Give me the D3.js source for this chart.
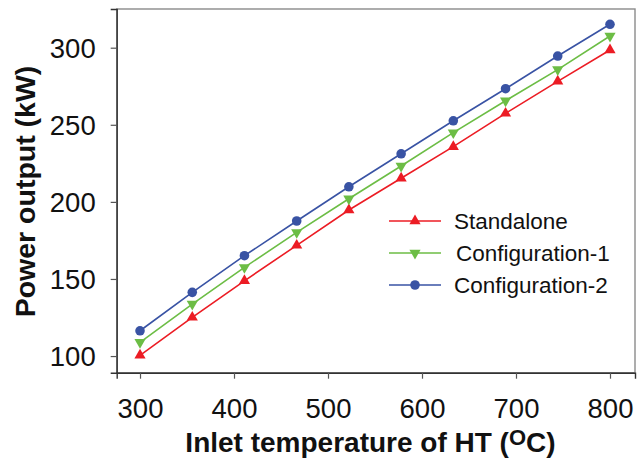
<!DOCTYPE html>
<html>
<head>
<meta charset="utf-8">
<style>
    body { margin: 0; background: #ffffff; }
    text { font-family: "Liberation Sans", Arial, sans-serif; }
</style>
</head>
<body>
<script src="https://d3js.org/d3.v7.min.js"></script>
<script>
    // data
    const temps = [300, 355.6, 411.1, 466.7, 522.2, 577.8, 633.3, 688.9, 744.4, 800];
    const standalone = [100.5, 125.1, 148.8, 171.8, 194.7, 215.3, 235.8, 257.4, 278.2, 298.5];
    const config1 = [108.9, 133.7, 157.5, 180.2, 202.0, 223.3, 244.9, 265.6, 285.8, 307.6];
    const config2 = [116.4, 141.3, 165.1, 187.6, 209.8, 231.2, 252.6, 273.4, 294.6, 315.2];

    const series_names = ["Standalone", "Configuration-1", "Configuration-2"];
    const series_colors = ["#ec1c24", "#6cbd45", "#3953a4"];
    const series_symbols = ["up", "down", "circle"];

    const x_ticks = [300, 400, 500, 600, 700, 800];
    const y_ticks = [100, 150, 200, 250, 300];

    let svg_w = 643;
    let svg_h = 459;
    let left_marg = 116.7;
    let right_marg = 8;
    let top_marg = 9;
    let bottom_marg = 86.3;

    let svg = d3.select("body").append("svg")
        .attr("width", svg_w)
        .attr("height", svg_h);

    // horizontal scaling
    let x_scale = d3.scaleLinear()
        .domain([275.2, 826.6])
        .range([left_marg, svg_w - right_marg]);

    // vertical scaling
    let y_scale = d3.scaleLinear()
        .domain([89.2, 325.1])
        .range([svg_h - bottom_marg, top_marg]);

    // frame
    svg.append("rect")
        .attr("x", left_marg)
        .attr("y", top_marg)
        .attr("width", svg_w - right_marg - left_marg)
        .attr("height", svg_h - bottom_marg - top_marg)
        .attr("fill", "none")
        .attr("stroke", "#8a8a8a")
        .attr("stroke-width", 1.4);

    // axes
    let x_axis = d3.axisBottom(x_scale).tickValues(x_ticks).tickSize(6).tickFormat(d3.format("d"));
    let y_axis = d3.axisLeft(y_scale).tickValues(y_ticks).tickSize(6).tickPadding(15).tickFormat(d3.format("d"));

    let gx = svg.append("g")
        .attr("transform", "translate(0," + (svg_h - bottom_marg) + ")")
        .call(x_axis);
    gx.selectAll("text")
        .attr("y", 45.6)
        .attr("dy", null);

    let gy = svg.append("g")
        .attr("transform", "translate(" + left_marg + ",0)")
        .call(y_axis);
    gy.selectAll("text").attr("dy", "0.36em");

    svg.selectAll(".domain")
        .attr("stroke", "#333333")
        .attr("stroke-width", 1.4);
    svg.selectAll(".tick line")
        .attr("stroke", "#555555")
        .attr("stroke-width", 1.2);
    svg.selectAll(".tick text")
        .attr("fill", "#111111")
        .style("font-size", "27.5px")
        .style("font-family", "'Liberation Sans', Arial, sans-serif");

    // marker shapes
    function marker_path(kind) {
        if (kind === "circle") return d3.symbol().type(d3.symbolCircle).size(72)();
        return d3.symbol().type(d3.symbolTriangle).size(54)();
    }
    function marker_rot(kind) {
        return kind === "down" ? " rotate(180)" : "";
    }

    // lines and points
    const all_series = [standalone, config1, config2];
    let line = d3.line()
        .x(d => x_scale(d[0]))
        .y(d => y_scale(d[1]));

    for (let i = 0; i < all_series.length; i++) {
        let pts = temps.map((t, j) => [t, all_series[i][j]]);
        svg.append("path")
            .datum(pts)
            .attr("fill", "none")
            .attr("stroke", series_colors[i])
            .attr("stroke-width", 1.6)
            .attr("d", line);

        svg.selectAll(".pt" + i)
            .data(pts)
            .enter()
            .append("path")
            .attr("class", "pt" + i)
            .attr("d", marker_path(series_symbols[i]))
            .attr("transform", d => "translate(" + x_scale(d[0]) + "," + y_scale(d[1]) + ")" + marker_rot(series_symbols[i]))
            .attr("fill", series_colors[i]);
    }

    // legend
    const legend_y = [221, 253, 285];
    const legend_text_x = [454, 456, 454];
    for (let i = 0; i < series_names.length; i++) {
        let g = svg.append("g");
        g.append("line")
            .attr("x1", 389).attr("x2", 441)
            .attr("y1", legend_y[i]).attr("y2", legend_y[i])
            .attr("stroke", series_colors[i])
            .attr("stroke-width", 1.6);
        g.append("path")
            .attr("d", marker_path(series_symbols[i]))
            .attr("transform", "translate(415," + legend_y[i] + ")" + marker_rot(series_symbols[i]))
            .attr("fill", series_colors[i]);
        g.append("text")
            .attr("x", legend_text_x[i])
            .attr("y", legend_y[i])
            .attr("dy", "0.36em")
            .attr("fill", "#111111")
            .style("font-size", "22.5px")
            .text(series_names[i]);
    }

    // axis titles
    let xt = svg.append("text")
        .attr("x", 370.5)
        .attr("y", 451.7)
        .attr("text-anchor", "middle")
        .attr("fill", "#111111")
        .style("font-size", "28px")
        .style("font-weight", "bold");
    xt.append("tspan").text("Inlet temperature of HT (");
    xt.append("tspan").attr("dy", -7).style("font-size", "22px").text("O");
    xt.append("tspan").attr("dy", 7).text("C)");

    svg.append("text")
        .attr("text-anchor", "middle")
        .attr("transform", "translate(35,191.5) rotate(-90)")
        .attr("fill", "#111111")
        .style("font-size", "28.5px")
        .style("font-weight", "bold")
        .text("Power output (kW)");
</script>
</body>
</html>
